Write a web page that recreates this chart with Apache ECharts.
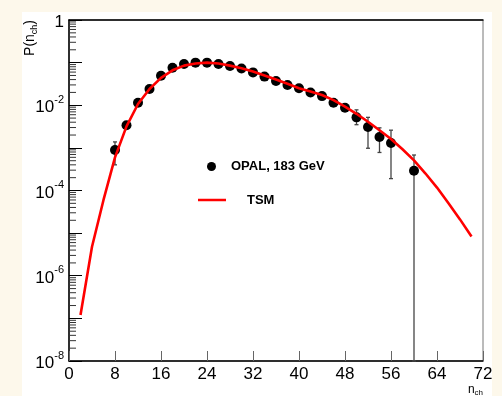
<!DOCTYPE html>
<html>
<head>
<meta charset="utf-8">
<script src="https://cdn.jsdelivr.net/npm/echarts@6/dist/echarts.min.js"></script>
<style>html,body{margin:0;padding:0;background:#fdf8eb;}#c{width:502px;height:396px;}</style>
</head>
<body>
<div id="c"></div>
<script>
// TSM model curve
const nTSM = [2,4,6,8,10,12,14,16,18,20,22,24,26,28,30,32,34,36,38,40,42,44,46,48,50,52,54,56,58,60,62,64,66,68,70];
const tsm = [1.2e-7,4.8e-6,6.0e-5,6.0e-4,3.2e-3,1.07e-2,2.4e-2,4.4e-2,6.6e-2,8.5e-2,9.5e-2,1.0e-1,9.5e-2,8.5e-2,7.4e-2,6.2e-2,5.0e-2,4.0e-2,3.2e-2,2.5e-2,2.1e-2,1.74e-2,1.32e-2,9.3e-3,6.3e-3,4.1e-3,2.6e-3,1.62e-3,9.3e-4,5.1e-4,2.5e-4,1.17e-4,5.0e-5,2.1e-5,8.3e-6];
// OPAL 183 GeV data
const nOPAL = [8,10,12,14,16,18,20,22,24,26,28,30,32,34,36,38,40,42,44,46,48,50,52,54,56,60];
const opal = [8.9e-4,3.4e-3,1.15e-2,2.4e-2,4.9e-2,7.6e-2,9.3e-2,1.0e-1,1.0e-1,9.3e-2,8.3e-2,7.3e-2,5.9e-2,4.7e-2,3.7e-2,3.0e-2,2.5e-2,2.0e-2,1.64e-2,1.15e-2,8.7e-3,5.2e-3,3.1e-3,1.8e-3,1.3e-3,2.9e-4];
// visible error bars
const errN = [8,50,52,54,56,60];
const errLo = [4.0e-4,3.5e-3,9.8e-4,7.8e-4,1.9e-4,1e-8];
const errHi = [1.38e-3,7.8e-3,5.2e-3,2.95e-3,2.6e-3,6.8e-4];
// axis
const xTicks = [0,8,16,24,32,40,48,56,64,72];
const yMin = 1e-8, yMax = 1;

const FONT = "'Liberation Sans', Arial, sans-serif";
const minorVals = [];
for (let e = -8; e < 0; e++) for (let k = 2; k <= 9; k++) minorVals.push([0, k * Math.pow(10, e)]);

const chart = echarts.init(document.getElementById('c'), null, {renderer: 'canvas'});
chart.setOption({
  backgroundColor: '#fdf8eb',
  animation: false,
  textStyle: {fontFamily: FONT},
  graphic: [
    {type: 'rect', z: -10, shape: {x: 22, y: 12, width: 470, height: 384}, style: {fill: '#ffffff'}},
    {type: 'circle', z: 10, shape: {cx: 211.5, cy: 166.5, r: 4.5}, style: {fill: '#000'}},
    {type: 'text', z: 10, x: 231, y: 166, style: {text: 'OPAL, 183 GeV', font: 'bold 13px ' + FONT, fill: '#000', verticalAlign: 'middle'}},
    {type: 'line', z: 10, shape: {x1: 198, y1: 200, x2: 226, y2: 200}, style: {stroke: '#ff0000', lineWidth: 2.5}},
    {type: 'text', z: 10, x: 247, y: 200, style: {text: 'TSM', font: 'bold 13px ' + FONT, fill: '#000', verticalAlign: 'middle'}},
    {type: 'text', z: 10, x: 30, y: 20, rotation: Math.PI / 2,
      style: {text: '{a|P(n}{s|ch}{a|)}', align: 'right', verticalAlign: 'middle',
        rich: {a: {fontSize: 14, fontFamily: FONT, fill: '#000', lineHeight: 18}, s: {fontSize: 9, fontFamily: FONT, fill: '#000', verticalAlign: 'bottom', lineHeight: 9}}}},
    {type: 'text', z: 10, x: 483, y: 390,
      style: {text: '{a|n}{s|ch}', align: 'right', verticalAlign: 'middle',
        rich: {a: {fontSize: 12, fontFamily: FONT, fill: '#000', lineHeight: 14}, s: {fontSize: 8, fontFamily: FONT, fill: '#000', verticalAlign: 'bottom', lineHeight: 8}}}}
  ],
  grid: {left: 69, right: 19, top: 20, bottom: 35, show: true, backgroundColor: '#fff', borderColor: '#777', borderWidth: 1},
  xAxis: [{
    type: 'value', min: xTicks[0], max: xTicks[xTicks.length - 1], interval: 8,
    axisLine: {show: true, onZero: false, lineStyle: {color: '#000', width: 1.5}},
    axisTick: {show: true, inside: true, length: 10, lineStyle: {color: '#666'}},
    axisLabel: {fontSize: 17, color: '#000', margin: 5, fontFamily: FONT},
    splitLine: {show: false}
  }, {
    type: 'value', position: 'top', min: 0, max: 72,
    axisLine: {show: true, lineStyle: {color: '#000', width: 1.5}},
    axisTick: {show: false}, axisLabel: {show: false}, splitLine: {show: false}
  }],
  yAxis: {
    type: 'log', logBase: 10, min: yMin, max: yMax, interval: 1,
    axisLine: {show: true, onZero: false, lineStyle: {color: '#000', width: 1.5}},
    axisTick: {show: true, inside: true, length: 13, lineStyle: {color: '#000'}},
    axisLabel: {
      margin: 5, color: '#000',
      formatter: function (v) {
        const e = Math.round(Math.log10(v));
        if (e % 2 !== 0) return '';
        if (e === 0) return '{b|1}';
        return '{b|10}{s|' + e + '}';
      },
      rich: {
        b: {fontSize: 17, fontFamily: FONT, color: '#000', lineHeight: 22, verticalAlign: 'bottom'},
        s: {fontSize: 11, fontFamily: FONT, color: '#000', lineHeight: 11, verticalAlign: 'top'}
      }
    },
    splitLine: {show: false}
  },
  series: [
    {
      type: 'custom', z: 1, silent: true,
      data: minorVals,
      renderItem: function (params, api) {
        const p = api.coord([0, api.value(1)]);
        return {type: 'line', shape: {x1: p[0], y1: p[1], x2: p[0] + 7, y2: p[1]}, style: {stroke: '#333', lineWidth: 1}};
      }
    },
    {
      type: 'custom', z: 1, silent: true,
      data: errN.map((n, i) => [n, errLo[i], errHi[i]]),
      renderItem: function (params, api) {
        const lo = api.coord([api.value(0), api.value(1)]);
        const hi = api.coord([api.value(0), api.value(2)]);
        const c = 2;
        return {type: 'group', children: [
          {type: 'line', shape: {x1: lo[0], y1: lo[1], x2: hi[0], y2: hi[1]}, style: {stroke: '#444', lineWidth: 1.3}},
          {type: 'line', shape: {x1: hi[0] - c, y1: hi[1], x2: hi[0] + c, y2: hi[1]}, style: {stroke: '#444', lineWidth: 1.3}},
          {type: 'line', shape: {x1: lo[0] - c, y1: lo[1], x2: lo[0] + c, y2: lo[1]}, style: {stroke: '#444', lineWidth: 1.3}}
        ]};
      }
    },
    {
      name: 'OPAL, 183 GeV', type: 'scatter', z: 2,
      data: nOPAL.map((n, i) => [n, opal[i]]),
      symbol: 'circle', symbolSize: 10,
      itemStyle: {color: '#000', opacity: 1}
    },
    {
      name: 'TSM', type: 'line', z: 3,
      data: nTSM.map((n, i) => [n, tsm[i]]),
      showSymbol: false, smooth: false,
      lineStyle: {color: '#ff0000', width: 2.6}
    }
  ]
});
</script>
</body>
</html>
